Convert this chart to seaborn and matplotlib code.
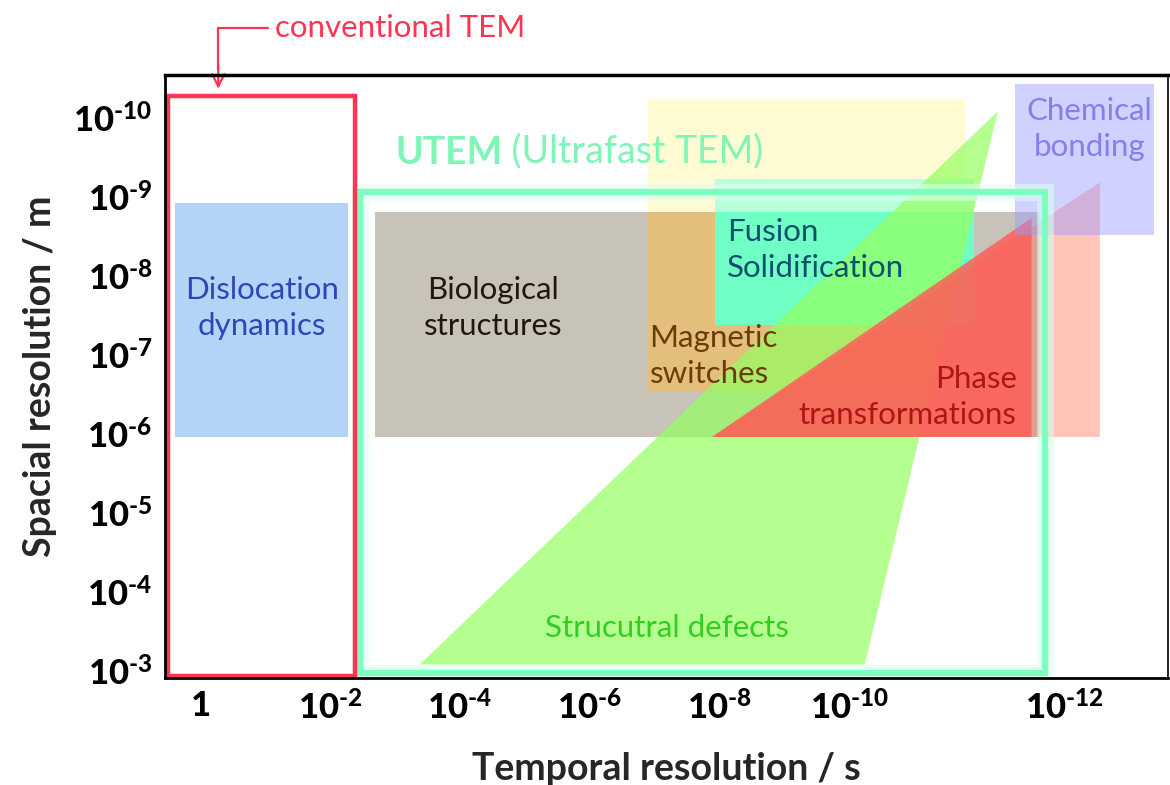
import matplotlib
matplotlib.use("Agg")
import matplotlib.pyplot as plt
import matplotlib.patheffects as pe
from matplotlib.patches import Rectangle, Polygon
import seaborn as sns

sns.set_theme(style="white")
plt.rcParams['font.family'] = ['Lato', 'DejaVu Sans']
plt.rcParams['mathtext.fontset'] = 'custom'
plt.rcParams['mathtext.rm'] = 'Lato:black'
plt.rcParams['mathtext.bf'] = 'Lato:black'

# x = -log10(time / s), y = -log10(size / m)
x_ticks = [0, 2, 4, 6, 8, 10, 13.3]
x_labels = ['1', '10^{\\text{-}2}', '10^{\\text{-}4}', '10^{\\text{-}6}', '10^{\\text{-}8}',
            '10^{\\text{-}10}', '10^{\\text{-}12}']
y_ticks = [10, 9, 8, 7, 6, 5, 4, 3]
y_labels = ['10^{\\text{-}%d}' % n for n in y_ticks]

# regions (x range, y range)
conv_x, conv_y = [-0.49, 2.38], [2.94, 10.27]
utem_x, utem_y = [2.46, 13.0], [2.97, 9.06]
disloc_x, disloc_y = [-0.38, 2.28], [5.96, 8.92]
bio_x, bio_y = [2.69, 12.92], [5.96, 8.81]
magnet_x, magnet_y = [6.89, 11.38], [6.53, 8.81]
magnet_pale_x, magnet_pale_y = [6.89, 11.77], [7.38, 10.23]
fusion_x, fusion_y = [7.92, 11.92], [7.38, 8.81]
fusion_top_x, fusion_top_y = [7.92, 11.92], [8.81, 9.22]
chem_x, chem_y = [12.54, 14.69], [8.52, 10.42]
defect_x, defect_y = [3.38, 12.28, 10.23], [3.08, 10.08, 3.08]
phase_x, phase_y = [7.88, 12.8, 12.8], [5.96, 8.73, 5.96]
phase_out_x, phase_out_y = [7.88, 13.85, 13.85], [5.96, 9.18, 5.96]

fig = plt.figure(figsize=(11.7, 7.85), dpi=100)
ax = fig.add_axes([165 / 1170, 1 - 678 / 785, 1003 / 1170, 603 / 785])
ax.set_xlim(-0.54, 14.9)
ax.set_ylim(2.91, 10.54)


def box(xs, ys, **kw):
    ax.add_patch(Rectangle((xs[0], ys[0]), xs[1] - xs[0], ys[1] - ys[0], **kw))


def tri(xs, ys, **kw):
    ax.add_patch(Polygon(list(zip(xs, ys)), closed=True, **kw))


box(magnet_pale_x, magnet_pale_y, facecolor='#fffbd3', lw=0, zorder=1)
box(bio_x, bio_y, facecolor='#c7c3b8', lw=0, zorder=2)
box(magnet_x, magnet_y, facecolor='#e4bf7c', lw=0, zorder=3)
box(fusion_top_x, fusion_top_y, facecolor='#b8ffdc', lw=0, zorder=4)
box(fusion_x, fusion_y, facecolor='#70ffc4', lw=0, zorder=4)
tri(defect_x, defect_y, facecolor='#95ff60', alpha=0.7, lw=0, zorder=5)
tri(phase_out_x, phase_out_y, facecolor='#ff7050', alpha=0.4, lw=0, zorder=6)
tri(phase_x, phase_y, facecolor='#ff5c58', alpha=0.82, lw=0, zorder=6)
box(chem_x, chem_y, facecolor='#9999ff', alpha=0.45, lw=0, zorder=7)
box(disloc_x, disloc_y, facecolor='#b3d3f7', lw=0, zorder=3)

box(utem_x, utem_y, facecolor='none', edgecolor='#7dffbf', lw=4.5, zorder=8,
    path_effects=[pe.Stroke(linewidth=12, foreground='#d8fff0', alpha=0.6), pe.Normal()])
box(conv_x, conv_y, facecolor='none', edgecolor='#ff3352', lw=3.2, zorder=9)

# region names
lab = dict(fontsize=22.5, linespacing=1.35, zorder=10)
ax.text(0.95, 7.59, 'Dislocation\ndynamics', color='#2a48b8', ha='center', va='center', **lab)
ax.text(4.51, 7.59, 'Biological\nstructures', color='#251510', ha='center', va='center', **lab)
ax.text(8.11, 8.33, 'Fusion\nSolidification', color='#0d4f6e', ha='left', va='center', **lab)
ax.text(6.92, 6.99, 'Magnetic\nswitches', color='#6b3c08', ha='left', va='center', **lab)
ax.text(12.57, 6.46, 'Phase\ntransformations', color='#b01515', ha='right', va='center',
        multialignment='right', **lab)
ax.text(7.18, 3.54, 'Strucutral defects', color='#33cc22', ha='center', va='center', **lab)
ax.text(13.69, 9.86, 'Chemical\nbonding', color='#8080ee', ha='center', va='center', **lab)

t1 = ax.text(3.0, 9.42, 'UTEM', color='#7ff5b8', fontsize=27, fontweight='bold',
             ha='left', va='baseline', zorder=10)
ax.annotate(' (Ultrafast TEM)', xy=(1, 0), xycoords=t1, color='#7ff5b8', fontsize=27,
            ha='left', va='bottom', zorder=10)

# conventional TEM pointer
ax.plot([1.05, 0.28, 0.28], [11.14, 11.14, 10.6], color='#ff3352', lw=1.6, clip_on=False)
ax.annotate('', xy=(0.28, 10.33), xytext=(0.28, 10.7), annotation_clip=False,
            arrowprops=dict(arrowstyle='->', color='#ff3352', lw=1.6, mutation_scale=22))
ax.text(1.15, 11.14, 'conventional TEM', color='#ff3352', fontsize=22.5, ha='left',
        va='center', clip_on=False)

ax.set_xticks(x_ticks)
ax.set_xticklabels([r'$\mathbf{%s}$' % s for s in x_labels])
ax.set_yticks(y_ticks)
ax.set_yticklabels([r'$\mathbf{%s}$' % s for s in y_labels])
ax.tick_params(length=0, labelsize=25, colors='black', pad=9)
ax.set_xlabel('Temporal resolution / s', fontsize=27, fontweight='bold', labelpad=19)
ax.set_ylabel('Spacial resolution / m', fontsize=27, fontweight='bold', labelpad=12)

for side, w in [('top', 2.5), ('left', 2), ('bottom', 2), ('right', 1.2)]:
    ax.spines[side].set_visible(True)
    ax.spines[side].set_color('black')
    ax.spines[side].set_linewidth(w)
    ax.spines[side].set_zorder(11)

fig.savefig('out.png', dpi=100, facecolor='white')
